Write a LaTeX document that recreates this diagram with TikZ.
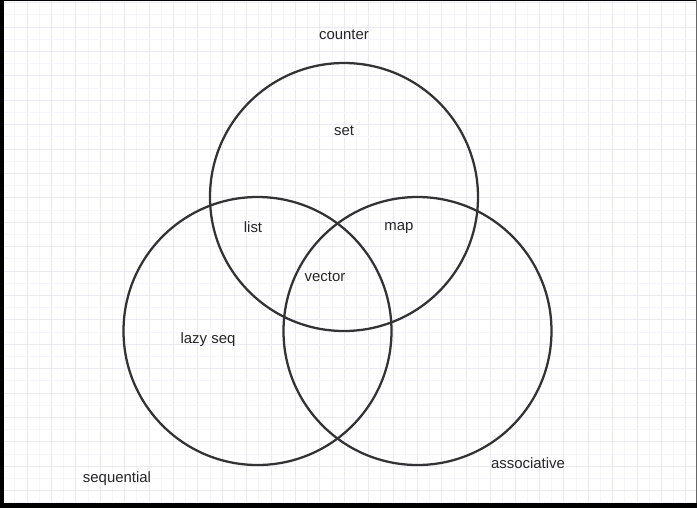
\documentclass[tikz,border=0pt]{standalone}
\usepackage{fontspec}
\setmainfont{Liberation Sans}
\usepackage{xcolor}
\usepackage{tikz}
\usetikzlibrary{positioning}
\definecolor{ink}{HTML}{333333}
\definecolor{gridminor}{HTML}{F5F5FB}
\definecolor{gridmajor}{HTML}{EAEAF5}
\tikzset{
  venn/.style={
    circle, draw=ink, line width=1.7pt,
    minimum size=#1, inner sep=0pt
  },
  venn/.default=201pt,
  setlabel/.style={
    font=\fontsize{11.2}{13}\selectfont, text=black!85,
    inner sep=1pt
  },
}

\begin{document}
\begin{tikzpicture}[x=0.75pt, y=-0.75pt]
    \useasboundingbox (0,0) rectangle (697,508);
    \fill[white] (0,0) rectangle (697,508);
    % grid paper
    \foreach \k in {0,...,56} {
      \pgfmathsetmacro{\gx}{2.5+12.2*\k}
      \ifodd\k
        \draw[gridminor, line width=0.6pt] (\gx,0) -- (\gx,508);
      \else
        \draw[gridmajor, line width=0.6pt] (\gx,0) -- (\gx,508);
      \fi
    }
    \foreach \k in {0,...,41} {
      \pgfmathsetmacro{\gy}{2.5+12.2*\k}
      \ifodd\k
        \draw[gridminor, line width=0.6pt] (0,\gy) -- (697,\gy);
      \else
        \draw[gridmajor, line width=0.6pt] (0,\gy) -- (697,\gy);
      \fi
    }
    % the three sets
    \node[venn] (counterc) at (344,197) {};
    \node[venn] (seqc) at (257.5,331) {};
    \node[venn] (assocc) at (417.5,331) {};
    % labels
    \node[setlabel] (counterl) at (344,35) {counter};
    \node[setlabel] (setl) at (344,131) {set};
    \node[setlabel] (listl) at (253,227) {list};
    \node[setlabel] (mapl) at (399,228) {map};
    \node[setlabel] (vectorl) at (325,277) {vector};
    \node[setlabel] (lazyl) at (208,340) {lazy seq};
    \node[setlabel] (seql) at (117,479) {sequential};
    \node[setlabel] (assocl) at (528,463) {associative};
    % frame
    \draw[black, line width=0.8pt] (0,0.5) -- (697,0.5);
    \draw[black!60, line width=0.8pt] (696.5,0) -- (696.5,508);
    \draw[black, line width=3pt] (2,0) -- (2,508);
    \draw[black, line width=3.5pt] (0,505.5) -- (697,505.5);
\end{tikzpicture}
\end{document}
